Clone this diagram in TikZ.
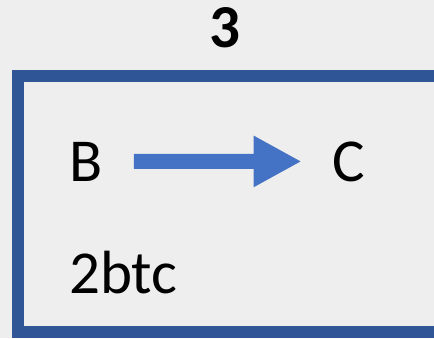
\documentclass[tikz,border=0pt]{standalone}
\usepackage{fontspec}
\setmainfont{Carlito}
\usetikzlibrary{arrows.meta}
\definecolor{boxblue}{HTML}{2F5597}
\definecolor{arrblue}{HTML}{4472C4}
\definecolor{paper}{HTML}{EEEEEE}

\begin{document}
\begin{tikzpicture}[x=1pt,y=-1pt,
    letter/.style={inner sep=0pt,anchor=base,font=\fontsize{61}{62}\selectfont},
    bigarrow/.style={draw=arrblue,line width=15pt,-{Triangle[length=48pt,width=48pt]},shorten <=31pt,shorten >=31pt}]
    \fill [paper] (0,0) rectangle (434,338);
    \useasboundingbox (0,0) rectangle (434,338);
    \node [letter,font=\fontsize{61}{62}\selectfont\bfseries] (t) at (225,47) {3};
    \draw [boxblue,line width=12pt] (18,76) rectangle (445,332);
    \node [letter] (b) at (86,181) {B};
    \node [letter] (c) at (349,181) {C};
    \node [letter,anchor=base west] (btc) at (69,293) {2btc};
    \draw [bigarrow] (b) -- (c);
  \end{tikzpicture}
\end{document}
